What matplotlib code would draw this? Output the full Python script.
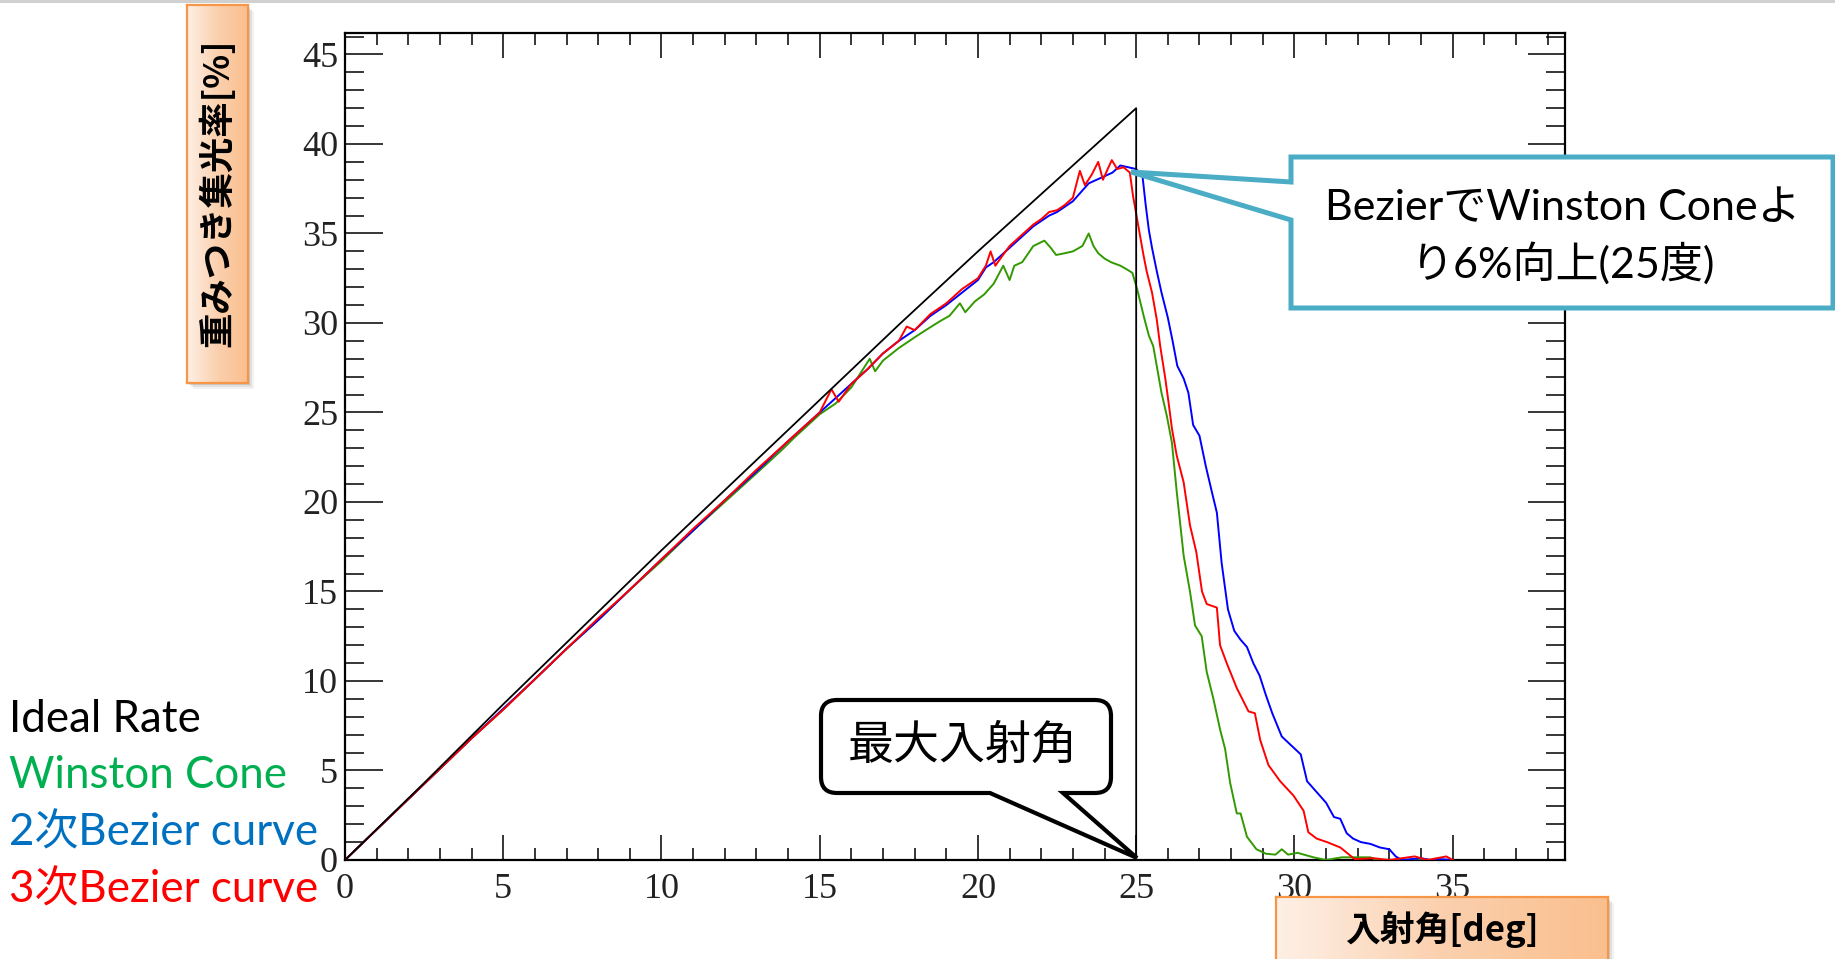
import matplotlib
matplotlib.use('Agg')
import matplotlib.pyplot as plt
import numpy as np
from matplotlib.path import Path
from matplotlib.patches import PathPatch, Rectangle
from matplotlib.colors import LinearSegmentedColormap
from matplotlib.ticker import MultipleLocator

# ---------------- data ----------------
ideal_pts = [(0, 0), (2.5, 4.3), (5, 8.7), (7.5, 13.0), (10, 17.3), (12.5, 21.5),
             (15, 25.7), (17.5, 29.9), (20, 34.0), (22.5, 38.0), (25, 42.0), (25, 0)]

winston_pts = [(0, 0), (1, 1.7), (2, 3.4), (3, 5.1), (4, 6.8), (5, 8.4), (6, 10.1), (7, 11.8),
               (8, 13.4), (9, 15.1), (10, 16.7), (11, 18.4), (12, 20.0), (13, 21.6), (13.8, 22.9),
               (14.2, 23.6), (15, 24.9), (15.5, 25.5), (16, 26.4), (16.58, 28.0), (16.75, 27.3),
               (17, 27.9), (17.5, 28.6), (18, 29.2), (18.35, 29.6), (18.8, 30.1), (19.1, 30.4),
               (19.43, 31.1), (19.6, 30.6), (19.9, 31.2), (20.2, 31.6), (20.5, 32.2), (20.8, 33.2),
               (21.0, 32.4), (21.15, 33.2), (21.4, 33.4), (21.75, 34.3), (22.1, 34.6), (22.3, 34.2),
               (22.47, 33.8), (22.75, 33.9), (23.0, 34.0), (23.3, 34.3), (23.5, 35.0), (23.65, 34.3),
               (23.8, 33.9), (24.0, 33.6), (24.2, 33.4), (24.5, 33.2), (24.7, 33.0), (24.88, 32.8),
               (25.03, 31.9), (25.25, 30.3), (25.4, 29.3), (25.54, 28.7), (25.65, 27.6), (25.8, 26.1),
               (25.97, 24.8), (26.13, 23.3), (26.28, 20.6), (26.5, 17.0), (26.7, 15.0), (26.86, 13.1),
               (27.07, 12.5), (27.23, 10.5), (27.44, 9.0), (27.65, 7.3), (27.81, 6.2), (27.97, 4.3),
               (28.18, 2.6), (28.3, 2.6), (28.5, 1.3), (28.8, 0.6), (29.1, 0.35), (29.4, 0.3),
               (29.6, 0.6), (29.8, 0.3), (30.1, 0.4), (30.6, 0.15), (31.0, 0.0), (31.5, 0.15),
               (32.4, 0.15), (32.6, 0.0), (35.0, 0.0)]

bezier2_pts = [(0, 0), (1, 1.7), (2, 3.4), (3, 5.1), (4, 6.8), (5, 8.45), (6, 10.1), (7, 11.8),
               (8, 13.4), (9, 15.1), (10, 16.8), (11, 18.4), (12, 20.1), (13, 21.7), (14, 23.4),
               (15, 25.0), (15.5, 25.8), (16, 26.6), (16.5, 27.4), (17, 28.3), (17.5, 29.0),
               (18, 29.6), (18.5, 30.4), (19, 31.0), (19.5, 31.7), (20, 32.4), (20.25, 33.1),
               (20.5, 33.4), (20.75, 33.8), (21, 34.2), (21.25, 34.6), (21.5, 35.0), (21.75, 35.4),
               (22, 35.7), (22.25, 36.0), (22.5, 36.2), (22.75, 36.5), (23, 36.8), (23.25, 37.3),
               (23.5, 37.8), (23.75, 38.0), (24, 38.2), (24.25, 38.4), (24.5, 38.8), (24.75, 38.7),
               (25.0, 38.6), (25.2, 38.2), (25.3, 36.6), (25.4, 35.2), (25.5, 34.2), (25.65, 32.9),
               (25.8, 31.7), (26.0, 30.3), (26.15, 29.0), (26.3, 27.6), (26.5, 26.9), (26.65, 26.1),
               (26.8, 24.3), (27.0, 23.7), (27.2, 22.0), (27.4, 20.5), (27.55, 19.4), (27.7, 16.6),
               (27.9, 14.0), (28.1, 12.8), (28.3, 12.3), (28.5, 11.9), (28.7, 11.0), (28.9, 10.3),
               (29.1, 9.2), (29.3, 8.2), (29.6, 6.9), (29.9, 6.4), (30.2, 5.9), (30.4, 4.4),
               (30.7, 3.8), (31.0, 3.2), (31.25, 2.4), (31.45, 2.3), (31.65, 1.5), (31.85, 1.2),
               (32.1, 1.0), (32.4, 0.9), (32.7, 0.7), (33.0, 0.6), (33.2, 0.2), (33.4, 0.0),
               (34.0, 0.1), (34.3, 0.0), (34.6, 0.05), (35.0, 0.0)]

bezier3_pts = [(0, 0), (1, 1.7), (2, 3.4), (3, 5.1), (4, 6.8), (5, 8.4), (6, 10.1), (7, 11.8),
               (8, 13.5), (9, 15.1), (10, 16.8), (11, 18.5), (12, 20.1), (13, 21.8), (14, 23.4),
               (15, 25.0), (15.37, 26.3), (15.6, 25.6), (16, 26.6), (16.5, 27.4), (17, 28.3),
               (17.5, 29.0), (17.75, 29.8), (18, 29.6), (18.5, 30.5), (19, 31.1), (19.5, 31.9),
               (20, 32.5), (20.25, 33.2), (20.4, 34.0), (20.55, 33.2), (20.75, 33.7), (21, 34.3),
               (21.25, 34.7), (21.5, 35.1), (21.75, 35.5), (22, 35.8), (22.25, 36.2), (22.5, 36.3),
               (22.75, 36.6), (23.0, 37.0), (23.22, 38.5), (23.38, 37.7), (23.6, 38.3), (23.8, 39.0),
               (23.95, 38.0), (24.1, 38.6), (24.23, 39.1), (24.4, 38.6), (24.6, 38.7), (24.8, 38.4),
               (24.9, 37.1), (25.07, 35.4), (25.23, 33.8), (25.33, 32.9), (25.5, 31.7), (25.65, 30.2),
               (25.76, 28.7), (25.92, 26.9), (26.02, 25.6), (26.13, 24.1), (26.28, 22.6), (26.5, 21.1),
               (26.7, 18.7), (26.9, 17.2), (27.08, 15.0), (27.23, 14.3), (27.55, 14.1), (27.65, 12.0),
               (27.86, 11.0), (28.18, 9.6), (28.55, 8.3), (28.75, 8.2), (28.92, 6.7), (29.18, 5.3),
               (29.55, 4.4), (29.97, 3.6), (30.29, 2.75), (30.44, 1.55), (30.7, 1.2), (31.03, 1.0),
               (31.45, 0.7), (31.66, 0.4), (31.9, 0.05), (32.5, 0.1), (33.0, 0.0), (33.8, 0.2),
               (34.2, 0.0), (34.8, 0.2), (35.0, 0.0)]

x_ticks = [0, 5, 10, 15, 20, 25, 30, 35]
y_ticks = [0, 5, 10, 15, 20, 25, 30, 35, 40, 45]

legend_labels = ['Ideal Rate', 'Winston Cone', '2次Bezier curve', '3次Bezier curve']
legend_colors = ['#000000', '#00B050', '#0070C0', '#FF0000']

ylabel_text = '重みつき集光率[%]'
xlabel_text = '入射角[deg]'
callout_max = '最大入射角'
callout_gain = ['BezierでWinston Coneよ', 'り6%向上(25度)']

# ---------------- figure ----------------
W, H = 1835, 959
fig = plt.figure(figsize=(W / 100, H / 100), dpi=100)
fig.patch.set_facecolor('white')


def fx(x):
    return x / W


def fy(y):
    return 1 - y / H


LAT = ['Lato', 'Noto Sans CJK JP']
CJK = ['Noto Sans CJK JP', 'DejaVu Sans']

# top gray slide edge
fig.add_artist(Rectangle((0, fy(3)), 1, 3 / H, transform=fig.transFigure,
                         facecolor='#D0D0D0', edgecolor='none', zorder=0))

ax = fig.add_axes([fx(345), fy(860), (1565 - 345) / W, (860 - 33) / H])
ax.set_xlim(0, 38.55)
ax.set_ylim(0, 46.2)


def xy(pts):
    a = np.array(pts, dtype=float)
    return a[:, 0], a[:, 1]


lw = 1.4
ax.plot(*xy(winston_pts), color='#339900', lw=lw, zorder=3)
ax.plot(*xy(bezier2_pts), color='#0000FF', lw=lw, zorder=4)
ax.plot(*xy(bezier3_pts), color='#FF0000', lw=lw, zorder=5)
ax.plot(*xy(ideal_pts), color='black', lw=1.3, zorder=6)

for s in ax.spines.values():
    s.set_linewidth(1.6)
ax.xaxis.set_major_locator(MultipleLocator(5))
ax.xaxis.set_minor_locator(MultipleLocator(1))
ax.yaxis.set_major_locator(MultipleLocator(5))
ax.yaxis.set_minor_locator(MultipleLocator(1))
ax.set_xticks(x_ticks)
ax.set_yticks(y_ticks)
ax.set_xticklabels([str(v) for v in x_ticks])
ax.set_yticklabels([str(v) for v in y_ticks])
ax.tick_params(axis='both', which='both', direction='in', top=True, right=True, color='black')
ax.tick_params(axis='x', which='major', length=18, width=1.1, pad=9, labelsize=26)
ax.tick_params(axis='x', which='minor', length=8.5, width=1.1)
ax.tick_params(axis='y', which='major', length=27, width=1.1, pad=5, labelsize=26)
ax.tick_params(axis='y', which='minor', length=13.5, width=1.1)
for lbl in ax.get_xticklabels() + ax.get_yticklabels():
    lbl.set_fontfamily('Liberation Serif')
    lbl.set_color('#222222')


# ---------------- gradient label boxes ----------------
def gradient_box(x0, y0, x1, y1, z=6):
    for k, a in [(6, 0.08), (4, 0.12), (2, 0.18)]:
        fig.add_artist(Rectangle((fx(x0 + k), fy(y1 + k)), (x1 - x0) / W, (y1 - y0) / H,
                                 transform=fig.transFigure, facecolor='#606060', alpha=a,
                                 edgecolor='none', zorder=z - 1))
    bax = fig.add_axes([fx(x0), fy(y1), (x1 - x0) / W, (y1 - y0) / H], zorder=z)
    cmap = LinearSegmentedColormap.from_list('g', ['#FEF0E6', '#FBD0AE', '#FABF8E'])
    bax.imshow(np.linspace(0, 1, 256)[None, :], aspect='auto', cmap=cmap, extent=[0, 1, 0, 1])
    bax.set_xlim(0, 1)
    bax.set_ylim(0, 1)
    for s in bax.spines.values():
        s.set_color('#F79646')
        s.set_linewidth(1.6)
    bax.set_xticks([])
    bax.set_yticks([])
    return bax


ybox = gradient_box(187, 5, 248, 383)
fig.text(fx(217), fy(193), ylabel_text, rotation=90, ha='center', va='center',
         fontsize=25.5, fontweight='bold', family=CJK, color='black', zorder=10)

xbox = gradient_box(1276, 897, 1608, 985)
fig.text(fx(1442), fy(930), xlabel_text, ha='center', va='center',
         fontsize=25, fontweight='bold', family=CJK, color='black', zorder=10)

# ---------------- legend text ----------------
renderer = fig.canvas.get_renderer()
base_y = [731.7, 788.3, 845.7, 902.3]
leg = []
for lab, col, by in zip(legend_labels, legend_colors, base_y):
    t = fig.text(fx(9), fy(by), lab, ha='left', va='baseline', fontsize=30,
                 family=LAT, color=col)
    leg.append(t)
w_ref = leg[2].get_window_extent(renderer).width
scale = 309 / w_ref
for t in leg:
    t.set_fontsize(30 * scale)

# ---------------- callout: 最大入射角 ----------------
L, R, T, B, r = 821, 1111, 700, 793, 16
tip = (1137, 858)
verts = [(L + r, T), (R - r, T), (R, T), (R, T + r), (R, B - r), (R, B), (R - r, B),
         (1063, B), tip, (990, B), (L + r, B), (L, B), (L, B - r), (L, T + r), (L, T),
         (L + r, T), (L + r, T)]
codes = [Path.MOVETO, Path.LINETO, Path.CURVE3, Path.CURVE3, Path.LINETO, Path.CURVE3,
         Path.CURVE3, Path.LINETO, Path.LINETO, Path.LINETO, Path.LINETO, Path.CURVE3,
         Path.CURVE3, Path.LINETO, Path.CURVE3, Path.CURVE3, Path.CLOSEPOLY]
p = Path([(fx(a), fy(b)) for a, b in verts], codes)
fig.add_artist(PathPatch(p, transform=fig.transFigure, facecolor='white', edgecolor='black',
                         lw=3.0, joinstyle='miter', zorder=8))
t = fig.text(fx(963), fy(746), callout_max, ha='center', va='center', fontsize=33,
             family=CJK, color='black', zorder=9)
w = t.get_window_extent(renderer).width
t.set_fontsize(33 * 230 / w)

# ---------------- callout: Bezier gain ----------------
bL, bR, bT, bB = 1291, 1833, 157, 308
tip2 = (1131, 172)
verts2 = [(bL, bT), (bR, bT), (bR, bB), (bL, bB), (bL, 220), tip2, (bL, 182), (bL, bT)]
codes2 = [Path.MOVETO] + [Path.LINETO] * 6 + [Path.CLOSEPOLY]
p2 = Path([(fx(a), fy(b)) for a, b in verts2], codes2)
fig.add_artist(PathPatch(p2, transform=fig.transFigure, facecolor='white', edgecolor='#4BACC6',
                         lw=3.6, joinstyle='miter', zorder=8))
t1 = fig.text(fx(1563), fy(208), callout_gain[0], ha='center', va='center', fontsize=28,
              family=LAT, color='black', zorder=9)
w = t1.get_window_extent(renderer).width
fs = 28 * 477 / w
t1.set_fontsize(fs)
fig.text(fx(1563), fy(263), callout_gain[1], ha='center', va='center', fontsize=fs,
         family=LAT, color='black', zorder=9)

fig.savefig('out.png', dpi=100, facecolor='white')
